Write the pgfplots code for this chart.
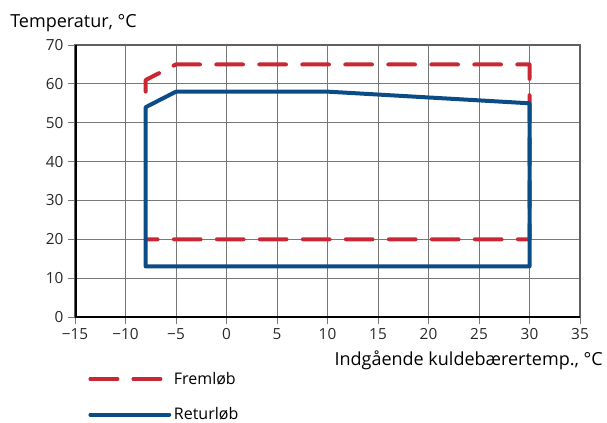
\documentclass[border=0pt]{standalone}
\usepackage{pgfplots}
\pgfplotsset{compat=1.18}
\usepackage{fontspec}
\setmainfont{Open Sans}
\definecolor{fred}{RGB}{200,40,52}
\definecolor{rblue}{RGB}{12,76,134}
\definecolor{gridgray}{RGB}{120,120,120}
\definecolor{txt}{RGB}{40,40,40}
\begin{document}
\begin{tikzpicture}
\path[use as bounding box] (0pt,0pt) rectangle (455.25pt,-316.5pt);
\begin{axis}[
  at={(56.25pt,-237.75pt)}, anchor=south west,
  scale only axis, width=378.75pt, height=204pt,
  xmin=-15, xmax=35, ymin=0, ymax=70,
  xtick={-15,-10,...,35}, ytick={0,10,...,70},
  xticklabels={−15,−10,−5,0,5,10,15,20,25,30,35},
  yticklabels={0,10,20,30,40,50,60,70},
  tick align=outside, major tick length=5.25pt,
  xtick pos=bottom, ytick pos=left,
  tick style={gridgray, line width=0.75pt},
  grid=major, grid style={gridgray, line width=0.75pt},
  axis line style={gridgray!80!black, line width=1.5pt},
  ticklabel style={font=\fontsize{11.5}{13}\selectfont, text=txt},
  xlabel={Indgående kuldebærertemp., °C},
  xlabel style={at={(axis description cs:1,0)}, anchor=base east, inner sep=0pt, xshift=17.25pt, yshift=-36pt, font=\fontsize{13.5}{15}\selectfont},
  ylabel={Temperatur, °C},
  ylabel style={at={(axis description cs:0,1)}, anchor=base west, rotate=-90, inner sep=0pt, xshift=-48.75pt, yshift=13.5pt, font=\fontsize{13.5}{15}\selectfont},
  legend style={at={(axis description cs:0,0)}, anchor=north west, draw=none, fill=none,
    xshift=7pt, yshift=-37pt, row sep=12pt, font=\fontsize{12}{14}\selectfont},
  legend cell align=left,
  legend image code/.code={\draw[#1] (0pt,0pt) -- (54pt,0pt); \path (0pt,0pt) -- (59pt,0pt);},
]
\addplot[fred, line width=3pt, line cap=round, line join=round, dash pattern=on 20pt off 12.25pt]
  coordinates {(-8,58) (-8,61) (-5,65) (30,65) (30,20) (-8,20)};
\addlegendentry{Fremløb}
\addplot[rblue, line width=3pt, line cap=round, line join=round]
  coordinates {(-8,13) (-8,54) (-5,58) (10,58) (30,55) (30,13) (-8,13)};
\addlegendentry{Returløb}
\draw[black, line width=2.25pt] (rel axis cs:0,1) -- (rel axis cs:0,0) -- (rel axis cs:1,0);
\end{axis}
\end{tikzpicture}
\end{document}
